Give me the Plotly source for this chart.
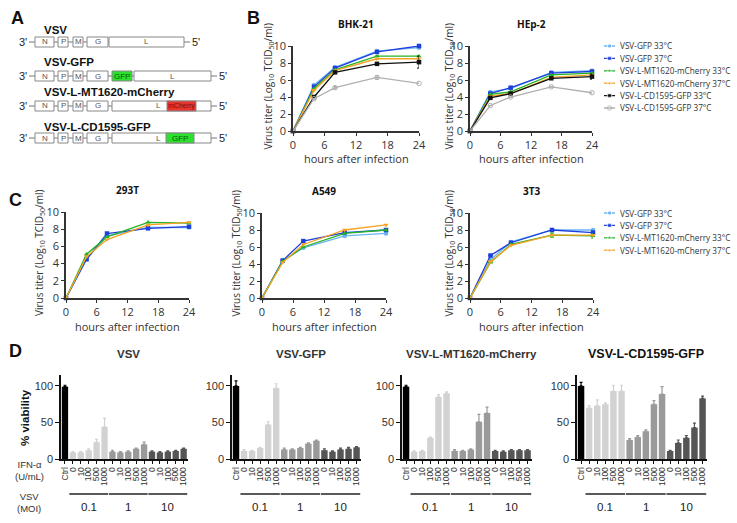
import plotly.graph_objects as go

W, H = 737, 523

# ---------------- DATA ----------------
hours = [0, 4, 8, 16, 24]
series_names = ["VSV-GFP 33°C", "VSV-GFP 37°C", "VSV-L-MT1620-mCherry 33°C",
                "VSV-L-MT1620-mCherry 37°C", "VSV-L-CD1595-GFP 33°C", "VSV-L-CD1595-GFP 37°C"]
series_colors = ["#6ab4f2", "#1f3fdc", "#24b324", "#f5a223", "#111111", "#b0b0b0"]
series_symbols = ["circle", "square", "triangle-up", "triangle-down", "square", "circle-open"]

bhk21 = [
    [0, 5.4, 7.5, 9.4, 9.8],
    [0, 5.2, 7.4, 9.3, 10.0],
    [0, 5.0, 7.2, 8.8, 8.8],
    [0, 4.8, 7.1, 8.5, 8.5],
    [0, 4.0, 6.9, 7.9, 8.1],
    [0, 3.8, 5.1, 6.3, 5.6],
]
bhk21_err = [[0]*5, [0]*5, [0]*5, [0]*5, [0, 0, 0, 0, 0.7], [0, 0, 0.15, 0.2, 0]]
hep2 = [
    [0, 4.6, 5.0, 6.9, 7.1],
    [0, 4.4, 5.1, 6.8, 7.0],
    [0, 4.3, 4.6, 6.6, 6.8],
    [0, 4.1, 4.4, 6.3, 6.6],
    [0, 3.9, 4.4, 6.2, 6.4],
    [0, 3.0, 4.0, 5.2, 4.5],
]
hep2_err = [[0]*5, [0]*5, [0]*5, [0]*5, [0, 0, 0, 0, 0.3], [0]*5]
t293 = [
    [0, 4.5, 7.2, 8.2, 8.2],
    [0, 4.5, 7.5, 8.1, 8.3],
    [0, 5.1, 7.1, 8.8, 8.7],
    [0, 4.8, 6.8, 8.5, 8.8],
]
a549 = [
    [0, 4.4, 5.9, 7.3, 7.6],
    [0, 4.4, 6.7, 7.7, 8.0],
    [0, 4.3, 6.0, 7.6, 8.0],
    [0, 4.2, 6.3, 8.0, 8.6],
]
t3t3 = [
    [0, 4.5, 6.6, 8.0, 8.0],
    [0, 5.0, 6.5, 8.0, 7.7],
    [0, 4.2, 6.3, 7.4, 7.3],
    [0, 4.3, 6.2, 7.4, 7.4],
]
t3t3_err = [[0]*5, [0]*5, [0, 0, 0, 0.25, 0.25], [0]*5]

bar_labels = ["Ctrl", "0", "10", "100", "500", "1000", "0", "10", "100", "500", "1000",
              "0", "10", "100", "500", "1000"]
moi_groups = ["0.1", "1", "10"]
group_colors = ["#000000", "#d2d2d2", "#9a9a9a", "#555555"]

d_titles = ["VSV", "VSV-GFP", "VSV-L-MT1620-mCherry", "VSV-L-CD1595-GFP"]
d_values = [
    [99, 9, 9, 12, 23, 44, 10, 9, 10, 14, 20, 10, 9, 10, 11, 14],
    [100, 11, 11, 15, 47, 97, 13, 13, 15, 21, 25, 12, 10, 13, 14, 16],
    [99, 10, 11, 29, 85, 90, 11, 11, 13, 51, 63, 11, 10, 12, 12, 12],
    [100, 70, 73, 75, 93, 93, 26, 30, 38, 75, 89, 11, 22, 29, 43, 83],
]
d_errors = [
    [2, 1, 1, 2, 4, 12, 2, 1, 1, 1, 3, 1, 1, 1, 1, 1],
    [7, 2, 1, 1, 4, 6, 2, 1, 1, 1, 1, 2, 1, 2, 2, 1],
    [2, 1, 1, 1, 3, 2, 2, 1, 1, 10, 8, 1, 1, 1, 1, 1],
    [5, 3, 8, 2, 8, 8, 2, 2, 2, 5, 10, 1, 4, 3, 6, 3],
]

# ---------------- helpers ----------------
def px(x):
    return x / W

def py(y):
    return 1 - y / H

fig = go.Figure()
layout = {}
annotations = []
shapes = []

FONT_T = "Open Sans"
FONT_A = "Liberation Sans, Arial"


def ann(text, x, y, size, color="#222", family=FONT_A, xanchor="center", xref="paper", yref="paper",
        angle=0):
    annotations.append(dict(text=text, x=x, y=y, xref=xref, yref=yref, xanchor=xanchor,
                            yanchor="middle", showarrow=False, textangle=angle,
                            font=dict(family=family, size=size, color=color)))


def line_panel(idx, xr, yr, title, data, errs, ylabel_x):
    xa = f"xaxis{idx}" if idx > 1 else "xaxis"
    ya = f"yaxis{idx}" if idx > 1 else "yaxis"
    xs = f"x{idx}" if idx > 1 else "x"
    ys = f"y{idx}" if idx > 1 else "y"
    common = dict(showline=True, linecolor="#333", linewidth=1.5, ticks="outside", ticklen=3,
                  tickcolor="#333", showgrid=False, zeroline=False, automargin=False,
                  tickfont=dict(family=FONT_T, size=11, color="#333"))
    layout[xa] = dict(domain=[px(xr[0]), px(xr[1])], anchor=ys, range=[0, 24],
                      tickvals=[0, 6, 12, 18, 24], **common)
    layout[ya] = dict(domain=[py(yr[1]), py(yr[0])], anchor=xs, range=[0, 10],
                      tickvals=[0, 2, 4, 6, 8, 10], **common)
    for i, vals in enumerate(data):
        err = errs[i] if errs else None
        fig.add_trace(go.Scatter(
            x=hours, y=vals, xaxis=xs, yaxis=ys, mode="lines+markers",
            line=dict(color=series_colors[i], width=1.3),
            marker=dict(color=series_colors[i], size=4.5, symbol=series_symbols[i]),
            error_y=dict(type="data", array=err, color=series_colors[i], thickness=1, width=2)
            if err else None,
            cliponaxis=False, showlegend=False, name=series_names[i]))
    cx = (xr[0] + xr[1]) / 2
    ann(f"<b>{title}</b>", px(cx), py(yr[0] - 22), 10, "#111", FONT_T)
    ann("hours after infection", px(cx), py(yr[1] + 28), 11, "#333", FONT_T)
    ann("Virus titer (Log<sub>10</sub> TCID<sub>50</sub>/ml)", px(ylabel_x), py((yr[0] + yr[1]) / 2 - 2),
        10, "#333", FONT_T, angle=-90)


line_panel(1, (293, 419), (46, 131), "BHK-21", bhk21, bhk21_err, 268)
line_panel(2, (470, 592), (46, 131), "HEp-2", hep2, hep2_err, 449)
line_panel(3, (66, 189), (212, 298), "293T", t293, None, 40)
line_panel(4, (262, 386), (213, 298), "A549", a549, None, 236)
line_panel(5, (470, 593), (213, 298), "3T3", t3t3, t3t3_err, 449)


# custom legends (drawn on their own small axes; x range expressed in pixels)
def legend_panel(idx, xr, y_top, n):
    xs, ys = f"x{idx}", f"y{idx}"
    rowh = 12.4
    yb = y_top + rowh * (n - 1)
    layout[f"xaxis{idx}"] = dict(domain=[px(xr[0]), px(xr[1])], anchor=ys, range=[0, xr[1] - xr[0]],
                                 visible=False, automargin=False)
    layout[f"yaxis{idx}"] = dict(domain=[py(yb + rowh / 2), py(y_top - rowh / 2)], anchor=xs,
                                 range=[-(n - 1) - 0.5, 0.5], visible=False, automargin=False)
    for i in range(n):
        fig.add_trace(go.Scatter(
            x=[0, 5.5, 11], y=[-i, -i, -i], xaxis=xs, yaxis=ys, mode="lines+markers",
            line=dict(color=series_colors[i], width=1.3),
            marker=dict(color=series_colors[i], size=[0, 4.5, 0], symbol=series_symbols[i]),
            cliponaxis=False, showlegend=False, hoverinfo="skip"))
        ann(series_names[i], 14, -i, 8.2, "#333", FONT_T, xanchor="left", xref=xs, yref=ys)


legend_panel(10, (604, 736), 46, 6)
legend_panel(11, (604, 736), 213, 4)

# ---------------- Panel D bars ----------------
d_xr = [(61, 188), (232, 361), (402, 532), (577, 707)]
group_slices = [(0, 1), (1, 6), (6, 11), (11, 16)]
xpos = list(range(len(bar_labels)))
for p in range(4):
    idx = 6 + p
    xs, ys = f"x{idx}", f"y{idx}"
    layout[f"xaxis{idx}"] = dict(domain=[px(d_xr[p][0]), px(d_xr[p][1])], anchor=ys,
                                 range=[-0.5, 15.55], tickvals=xpos, ticktext=bar_labels,
                                 tickangle=-90, showline=True, linecolor="#111", linewidth=1.5,
                                 ticks="outside", ticklen=3, tickcolor="#111", showgrid=False,
                                 zeroline=False, automargin=False,
                                 tickfont=dict(family=FONT_A, size=8.5, color="#333"))
    layout[f"yaxis{idx}"] = dict(domain=[py(459), py(375)], anchor=xs, range=[0, 115],
                                 tickvals=[0, 50, 100], showline=True, linecolor="#111",
                                 linewidth=1.5, ticks="outside", ticklen=4, tickcolor="#111",
                                 showgrid=False, zeroline=False, automargin=False,
                                 tickfont=dict(family=FONT_A, size=11, color="#333"))
    for g, (a, b) in enumerate(group_slices):
        fig.add_trace(go.Bar(
            x=xpos[a:b], y=d_values[p][a:b], xaxis=xs, yaxis=ys, width=0.8,
            marker=dict(color=group_colors[g], line=dict(width=0)),
            error_y=dict(type="data", symmetric=False, array=d_errors[p][a:b],
                         arrayminus=[0] * (b - a), color=group_colors[g], thickness=1.2, width=1.5),
            showlegend=False))
    for g, (a, b) in enumerate(group_slices[1:]):
        shapes.append(dict(type="line", xref=xs, yref="paper", x0=a - 0.45, x1=b - 0.55,
                           y0=py(494), y1=py(494), line=dict(color="#222", width=1.3)))
        ann(moi_groups[g], (a + b - 1) / 2, py(507), 11.5, "#222", xref=xs)
    cx = (d_xr[p][0] + d_xr[p][1]) / 2 + 4
    ann(f"<b>{d_titles[p]}</b>", px(cx), py(354), 12.5 if p == 3 else 11.5, "#333" if p < 3 else "#111")

ann("<b>% viability</b>", px(25), py(418), 11.5, "#111", angle=-90)
ann("IFN-α<br>(U/mL)", px(29), py(470), 9.5, "#333")
ann("VSV<br>(MOI)", px(29), py(502), 9.5, "#333")

# ---------------- Panel letters ----------------
for letter, (lx, ly) in {"A": (17, 18), "B": (253, 18), "C": (15, 200), "D": (16, 351)}.items():
    ann(f"<b>{letter}</b>", px(lx), py(ly), 18, "#111")

# ---------------- Panel A schematic ----------------
genome_names = ["VSV", "VSV-GFP", "VSV-L-MT1620-mCherry", "VSV-L-CD1595-GFP"]
name_y = [30, 62, 92, 127]
row_y = [42, 76, 106, 138]
rows = [
    [(35, 54, "N"), (58, 68, "P"), (73, 83, "M"), (87, 108, "G"), (109, 184, "L")],
    [(35, 54, "N"), (58, 68, "P"), (73, 83, "M"), (87, 108, "G"), (112, 132, "GFP"), (134, 211, "L")],
    [(35, 54, "N"), (58, 68, "P"), (73, 83, "M"), (87, 108, "G"), (112, 211, "")],
    [(35, 54, "N"), (58, 68, "P"), (73, 83, "M"), (87, 108, "G"), (112, 211, "")],
]
inserts = [None, None, (167, 196, "mCherry", "#e8342c", "#7a1010"), (166, 194, "GFP", "#2ee02e", "#0c5a0c")]
for r in range(4):
    yc = row_y[r]
    ann(f"<b>{genome_names[r]}</b>", px(42), py(name_y[r]), 11.5, "#111", xanchor="left")
    end = rows[r][-1][1]
    shapes.append(dict(type="line", xref="paper", yref="paper", x0=px(29), x1=px(end + 6),
                       y0=py(yc), y1=py(yc), line=dict(color="#777", width=1)))
    ann("3'", px(29), py(yc), 11, "#222", xanchor="right")
    ann("5'", px(end + 6), py(yc), 11, "#222", xanchor="left")
    for (x0, x1, lab) in rows[r]:
        fill = "#2ee02e" if lab == "GFP" else "white"
        shapes.append(dict(type="rect", xref="paper", yref="paper", x0=px(x0), x1=px(x1),
                           y0=py(yc + 5), y1=py(yc - 5), fillcolor=fill,
                           line=dict(color="#888", width=1)))
        if lab:
            ann(lab, px((x0 + x1) / 2), py(yc), 8, "#0c5a0c" if lab == "GFP" else "#555")
    if inserts[r]:
        x0, x1, lab, fill, tc = inserts[r]
        shapes.append(dict(type="rect", xref="paper", yref="paper", x0=px(x0), x1=px(x1),
                           y0=py(yc + 5), y1=py(yc - 5), fillcolor=fill,
                           line=dict(color="#888", width=1)))
        ann(lab, px((x0 + x1) / 2), py(yc), 7 if lab == "mCherry" else 8, tc)
        ann("L", px(158), py(yc), 8, "#555")

layout.update(dict(width=W, height=H, margin=dict(l=0, r=0, t=0, b=0, pad=0), plot_bgcolor="white",
                   paper_bgcolor="white", annotations=annotations, shapes=shapes, showlegend=False,
                   bargap=0.2))
fig.update_layout(**layout)
fig.write_html("out.html", config={"displayModeBar": False},
               post_script="document.body.style.margin='0';")
